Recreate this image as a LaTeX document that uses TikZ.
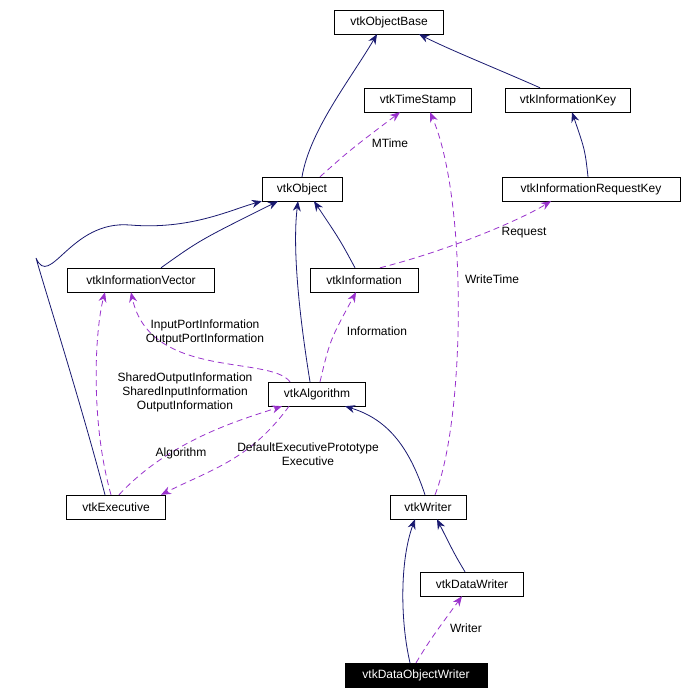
\documentclass[tikz,border=0pt]{standalone}
\usepackage{fontspec}
\setmainfont{Liberation Sans}
\usetikzlibrary{arrows.meta}
\definecolor{mblue}{RGB}{25,25,112}
\definecolor{dorch}{RGB}{153,50,204}
\begin{document}
\begin{tikzpicture}[x=1pt,y=-1pt,
  box/.style={draw=black,fill=white,inner sep=0pt,minimum height=24pt,font=\fontsize{12}{14}\selectfont},
  inh/.style={draw=mblue,line width=0.8pt,-{Stealth[length=10pt,width=8pt,fill=mblue]}},
  use/.style={draw=dorch,line width=0.8pt,dash pattern=on 6pt off 4pt,-{Stealth[length=10pt,width=8pt,fill=dorch]}},
  lab/.style={font=\fontsize{12}{14}\selectfont,align=center,inner sep=1pt}]
\useasboundingbox (0,0) rectangle (687,695);
\node[box,minimum width=109pt] (ob) at (389,22) {vtkObjectBase};
\node[box,minimum width=107pt] (ts) at (418,100) {vtkTimeStamp};
\node[box,minimum width=125pt] (ik) at (568,100) {vtkInformationKey};
\node[box,minimum width=80pt] (o) at (302,189) {vtkObject};
\node[box,minimum width=178pt] (irk) at (591,189) {vtkInformationRequestKey};
\node[box,minimum width=147pt] (iv) at (141,280) {vtkInformationVector};
\node[box,minimum width=108pt] (inf) at (364,280) {vtkInformation};
\node[box,minimum width=97pt] (alg) at (317,394) {vtkAlgorithm};
\node[box,minimum width=99pt] (ex) at (116,507) {vtkExecutive};
\node[box,minimum width=76pt] (w) at (428,507) {vtkWriter};
\node[box,minimum width=103pt] (dw) at (472,584) {vtkDataWriter};
\node[box,minimum width=142pt,fill=black,text=white] (dow) at (416,675) {vtkDataObjectWriter};
% inheritance
\draw[inh] (o.north) .. controls (310,130) and (350,80) .. ([xshift=-12pt]ob.south);
\draw[inh] ([xshift=-28pt]ik.north) .. controls (500,70) and (450,50) .. ([xshift=30pt]ob.south);
\draw[inh] ([xshift=-3pt]irk.north) .. controls (585,150) .. ([xshift=4pt]ik.south);
\draw[inh] ([xshift=20pt]iv.north) .. controls (200,240) .. ([xshift=-24pt]o.south);
\draw[inh] ([xshift=-9pt]inf.north) .. controls (340,240) .. ([xshift=12pt]o.south);
\draw[inh] ([xshift=-7pt]alg.north) .. controls (300,320) and (292,250) .. ([xshift=-4pt]o.south);
\draw[inh] ([xshift=-11pt]ex.north) .. controls (80,400) and (45,290) .. (36,258) .. controls (50,290) and (70,220) .. (130,225) .. controls (190,230) and (230,210) .. (o.south west);
\draw[inh] ([xshift=-3pt]w.north) .. controls (410,450) and (390,420) .. ([xshift=28pt]alg.south);
\draw[inh] ([xshift=-7pt]dw.north) .. controls (455,555) .. ([xshift=9pt]w.south);
\draw[inh] ([xshift=-6pt]dow.north) .. controls (400,620) and (400,560) .. ([xshift=-13pt]w.south);
% usage
\draw[use] ([xshift=18pt]o.north) .. controls (350,150) .. ([xshift=-18pt]ts.south);
\node[lab] (lmt) at (390,143) {MTime};
\draw[use] ([xshift=7pt]w.north) .. controls (465,420) and (468,200) .. ([xshift=12pt]ts.south);
\node[lab] (lwt) at (492,279) {WriteTime};
\draw[use] ([xshift=16pt]inf.north) .. controls (450,250) and (520,220) .. ([xshift=-40pt]irk.south);
\node[lab] (lrq) at (524,233) {Request};
\draw[use] ([xshift=-27pt]alg.north) .. controls (270,355) and (150,380) .. ([xshift=-10pt]iv.south);
\node[lab] (lip) at (205,332) {InputPortInformation\\OutputPortInformation};
\draw[use] ([xshift=-5pt]ex.north) .. controls (90,420) and (95,330) .. ([xshift=-36pt]iv.south);
\node[lab] (lso) at (185,392) {SharedOutputInformation\\SharedInputInformation\\OutputInformation};
\draw[use] ([xshift=3pt]alg.north) .. controls (330,340) .. ([xshift=-8pt]inf.south);
\node[lab] (linf) at (377,331) {Information};
\draw[use] ([xshift=3pt]ex.north) .. controls (170,440) and (240,420) .. ([xshift=-35pt]alg.south);
\node[lab] (lal) at (181,453) {Algorithm};
\draw[use] ([xshift=-28pt]alg.south) .. controls (250,460) and (210,470) .. ([xshift=45pt]ex.north);
\node[lab] (lde) at (308,454) {DefaultExecutivePrototype\\Executive};
\draw[use] (dow.north) .. controls (430,640) .. ([xshift=-10pt]dw.south);
\node[lab] (lwr) at (466,628) {Writer};
\end{tikzpicture}
\end{document}
